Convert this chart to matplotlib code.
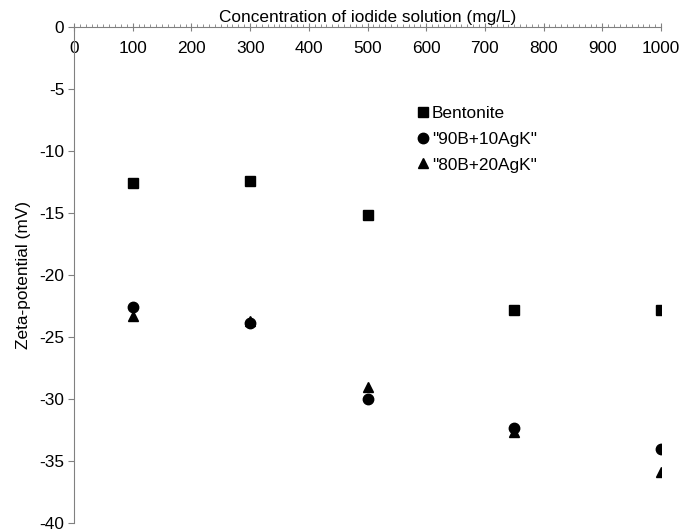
import matplotlib
matplotlib.use('Agg')
import matplotlib.pyplot as plt
from matplotlib.ticker import MultipleLocator

plt.rcParams['font.family'] = ['Liberation Sans', 'DejaVu Sans']
plt.rcParams['axes.unicode_minus'] = False

# data
conc = [100, 300, 500, 750, 1000]
bentonite = [-12.6, -12.4, -15.2, -22.8, -22.8]
b90_ag10 = [-22.6, -23.9, -30.0, -32.3, -34.0]
b80_ag20 = [-23.3, -23.7, -29.0, -32.7, -35.9]

labels = ['Bentonite', '"90B+10AgK"', '"80B+20AgK"']
fs = 12.4

fig = plt.figure(figsize=(6.96, 5.31), dpi=100)
ax = fig.add_axes([74/696, 1 - 523/531, (661 - 74)/696, (523 - 27)/531])

ax.plot(conc, bentonite, 's', color='black', markersize=7, label=labels[0], zorder=3)
ax.plot(conc, b80_ag20, '^', color='black', markersize=7.5, label=labels[2], zorder=3)
ax.plot(conc, b90_ag10, 'o', color='black', markersize=7.5, label=labels[1], zorder=4)

ax.set_xlim(0, 1000)
ax.set_ylim(-40, 0)

grey = '#808080'
for s in ['top', 'right']:
    ax.spines[s].set_visible(False)
ax.spines['bottom'].set_position(('data', 0))
ax.spines['bottom'].set_color(grey)
ax.spines['left'].set_color(grey)

ax.xaxis.set_major_locator(MultipleLocator(100))
ax.xaxis.set_minor_locator(MultipleLocator(10))
ax.yaxis.set_major_locator(MultipleLocator(5))

ax.tick_params(axis='x', which='major', direction='inout', length=6, color=grey,
               labelsize=fs, pad=7)
ax.tick_params(axis='x', which='minor', direction='in', length=2.5, color=grey)
ax.tick_params(axis='y', which='major', direction='out', length=4, color=grey,
               labelsize=fs, pad=3)

ax.xaxis.set_label_position('top')
ax.set_xlabel('Concentration of iodide solution (mg/L)', fontsize=fs, labelpad=3.5)
ax.set_ylabel('Zeta-potential (mV)', fontsize=fs, labelpad=6)

h, l = ax.get_legend_handles_labels()
order = [0, 2, 1]
ax.legend([h[i] for i in order], [l[i] for i in order], loc='upper left',
          bbox_to_anchor=(417/696, 1 - 106/531), bbox_transform=fig.transFigure,
          frameon=False, fontsize=fs, handlelength=0.7, handletextpad=0.15,
          labelspacing=0.62, borderaxespad=0, borderpad=0)

fig.savefig('out.png', dpi=100)
